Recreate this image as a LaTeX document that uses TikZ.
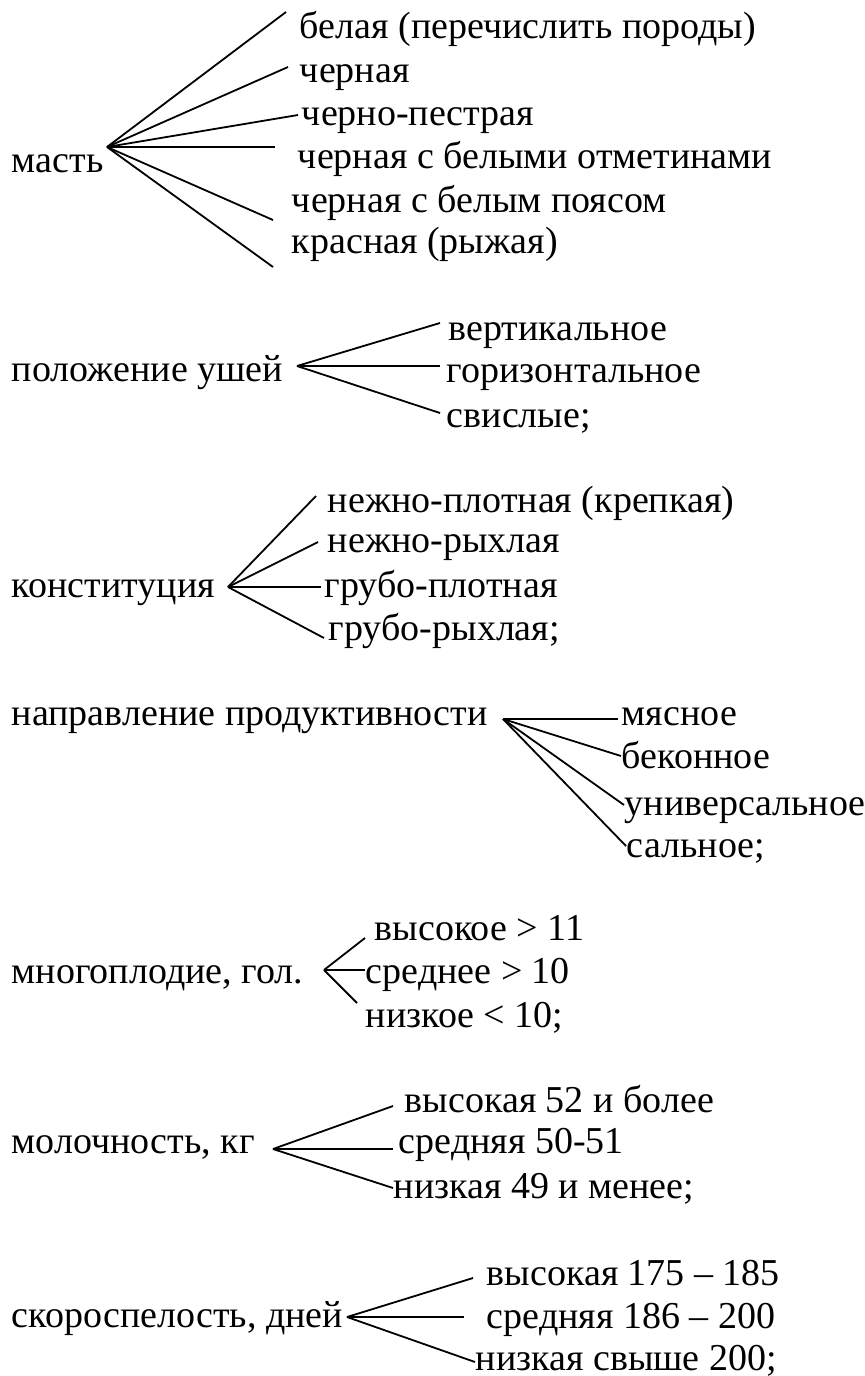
\documentclass[tikz,border=0pt]{standalone}
\usepackage{fontspec}
\setmainfont{Liberation Serif}
\begin{document}
\begin{tikzpicture}[x=0.5pt, y=-0.5pt, line width=0.9pt,
    lbl/.style={anchor=base west, inner sep=0pt, font=\fontsize{19}{23}\selectfont}]
    \useasboundingbox (0,0) rectangle (865,1376);
    % масть
    \node[lbl] (mast) at (11,172) {масть};
    \coordinate (mast0) at (107,147);
    \coordinate (mast1) at (286,12);
    \coordinate (mast2) at (288,67);
    \coordinate (mast3) at (298,115);
    \coordinate (mast4) at (275,147);
    \coordinate (mast5) at (273,220);
    \coordinate (mast6) at (273,267);
    \draw (mast0) -- (mast1);
    \draw (mast0) -- (mast2);
    \draw (mast0) -- (mast3);
    \draw (mast0) -- (mast4);
    \draw (mast0) -- (mast5);
    \draw (mast0) -- (mast6);
    \node[lbl] (mast-a) at (299,39) {белая (перечислить породы)};
    \node[lbl] (mast-b) at (299,82) {черная};
    \node[lbl] (mast-c) at (301,125) {черно-пестрая};
    \node[lbl] (mast-d) at (297,168) {черная с белыми отметинами};
    \node[lbl] (mast-e) at (291,212) {черная с белым поясом};
    \node[lbl] (mast-f) at (291,253) {красная (рыжая)};
    % положение ушей
    \node[lbl] (ushi) at (11,381) {положение ушей};
    \coordinate (ushi0) at (297,366);
    \coordinate (ushi1) at (440,323);
    \coordinate (ushi2) at (440,366);
    \coordinate (ushi3) at (440,413);
    \draw (ushi0) -- (ushi1);
    \draw (ushi0) -- (ushi2);
    \draw (ushi0) -- (ushi3);
    \node[lbl] (ushi-a) at (448,340) {вертикальное};
    \node[lbl] (ushi-b) at (446,382) {горизонтальное};
    \node[lbl] (ushi-c) at (446,427) {свислые;};
    % конституция
    \node[lbl] (konst) at (11,597) {конституция};
    \coordinate (konst0) at (228,587);
    \coordinate (konst1) at (316,496);
    \coordinate (konst2) at (318,542);
    \coordinate (konst3) at (321,587);
    \coordinate (konst4) at (324,638);
    \draw (konst0) -- (konst1);
    \draw (konst0) -- (konst2);
    \draw (konst0) -- (konst3);
    \draw (konst0) -- (konst4);
    \node[lbl] (konst-a) at (327,512) {нежно-плотная (крепкая)};
    \node[lbl] (konst-b) at (327,552) {нежно-рыхлая};
    \node[lbl] (konst-c) at (324,597) {грубо-плотная};
    \node[lbl] (konst-d) at (328,640) {грубо-рыхлая;};
    % направление продуктивности
    \node[lbl] (napr) at (11,725) {направление продуктивности};
    \coordinate (napr0) at (503,719);
    \coordinate (napr1) at (618,719);
    \coordinate (napr2) at (621,756);
    \coordinate (napr3) at (624,805);
    \coordinate (napr4) at (626,846);
    \draw (napr0) -- (napr1);
    \draw (napr0) -- (napr2);
    \draw (napr0) -- (napr3);
    \draw (napr0) -- (napr4);
    \node[lbl] (napr-a) at (621,725) {мясное};
    \node[lbl] (napr-b) at (621,768) {беконное};
    \node[lbl] (napr-c) at (624,815) {универсальное};
    \node[lbl] (napr-d) at (626,857) {сальное;};
    % многоплодие
    \node[lbl] (mnog) at (11,983) {многоплодие, гол.};
    \coordinate (mnog0) at (324,970);
    \coordinate (mnog1) at (365,938);
    \coordinate (mnog2) at (365,970);
    \coordinate (mnog3) at (357,1003);
    \draw (mnog0) -- (mnog1);
    \draw (mnog0) -- (mnog2);
    \draw (mnog0) -- (mnog3);
    \node[lbl] (mnog-a) at (374,940) {высокое > 11};
    \node[lbl] (mnog-b) at (365,983) {среднее > 10};
    \node[lbl] (mnog-c) at (365,1027) {низкое < 10;};
    % молочность
    \node[lbl] (mol) at (11,1153) {молочность, кг};
    \coordinate (mol0) at (273,1149);
    \coordinate (mol1) at (393,1106);
    \coordinate (mol2) at (393,1149);
    \coordinate (mol3) at (393,1188);
    \draw (mol0) -- (mol1);
    \draw (mol0) -- (mol2);
    \draw (mol0) -- (mol3);
    \node[lbl] (mol-a) at (404,1112) {высокая 52 и более};
    \node[lbl] (mol-b) at (398,1153) {средняя 50-51};
    \node[lbl] (mol-c) at (393,1198) {низкая 49 и менее;};
    % скороспелость
    \node[lbl] (skor) at (11,1327) {скороспелость, дней};
    \coordinate (skor0) at (347,1317);
    \coordinate (skor1) at (473,1278);
    \coordinate (skor2) at (464,1317);
    \coordinate (skor3) at (475,1362);
    \draw (skor0) -- (skor1);
    \draw (skor0) -- (skor2);
    \draw (skor0) -- (skor3);
    \node[lbl] (skor-a) at (486,1285) {высокая 175 – 185};
    \node[lbl] (skor-b) at (486,1328) {средняя 186 – 200};
    \node[lbl] (skor-c) at (475,1370) {низкая свыше 200;};
\end{tikzpicture}
\end{document}
